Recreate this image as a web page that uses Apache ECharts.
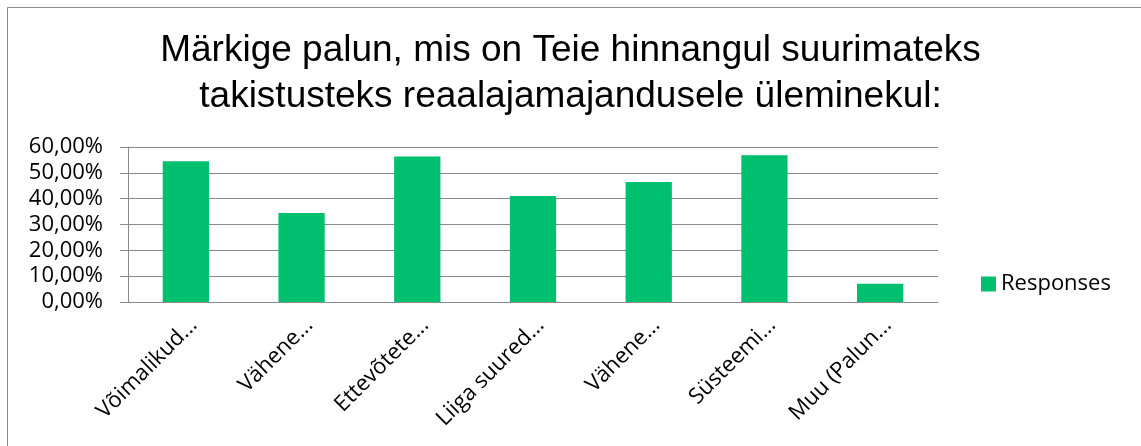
<!DOCTYPE html>
<html>
<head>
<meta charset="utf-8">
<script src="https://cdn.jsdelivr.net/npm/echarts@6/dist/echarts.min.js"></script>
<style>
  html, body { margin: 0; padding: 0; background: #fff; }
  #chart { width: 1141px; height: 446px; }
</style>
</head>
<body>
<div id="chart"></div>
<script>
const titleLines = ['Märkige palun, mis on Teie hinnangul suurimateks', 'takistusteks reaalajamajandusele üleminekul:']
const categories = ['Võimalikud...', 'Vähene...', 'Ettevõtete...', 'Liiga suured...', 'Vähene...', 'Süsteemi...', 'Muu (Palun...']
const responses = [54.5, 34.5, 56.3, 41.0, 46.5, 56.8, 7.1]
const seriesName = 'Responses'

const chart = echarts.init(document.getElementById('chart'))
const labelFont = '"Open Sans", sans-serif'

chart.setOption({
  animation: false,
  title: {
    text: titleLines.join('\n'),
    left: 'center',
    top: 23,
    textStyle: {
      fontFamily: '"Liberation Sans", Arial, sans-serif',
      fontWeight: 'normal',
      fontSize: 37,
      lineHeight: 46,
      color: '#000'
    }
  },
  legend: {
    data: [seriesName],
    left: 981,
    top: 273,
    padding: 0,
    itemWidth: 15,
    itemHeight: 15,
    icon: 'rect',
    textStyle: { fontFamily: labelFont, fontSize: 22, color: '#000' }
  },
  grid: {
    left: 128,
    right: 203,
    top: 147,
    bottom: 144
  },
  xAxis: {
    type: 'category',
    data: categories,
    axisLine: { lineStyle: { color: '#8a8a8a', width: 1 } },
    axisTick: { length: 8, lineStyle: { color: '#8a8a8a' } },
    axisLabel: {
      rotate: 45,
      interval: 0,
      margin: 12,
      verticalAlign: 'top',
      fontFamily: labelFont,
      fontSize: 22,
      color: '#000'
    }
  },
  yAxis: {
    type: 'value',
    min: 0,
    max: 60,
    interval: 10,
    axisLine: { show: true, lineStyle: { color: '#8a8a8a' } },
    axisTick: { show: true, length: 8, lineStyle: { color: '#8a8a8a' } },
    splitLine: { lineStyle: { color: '#8a8a8a', width: 1 } },
    axisLabel: {
      margin: 25,
      fontFamily: labelFont,
      fontSize: 22,
      color: '#000',
      formatter: v => v.toFixed(2).replace('.', ',') + '%'
    }
  },
  series: [{
    name: seriesName,
    type: 'bar',
    data: responses,
    barCategoryGap: '60%',
    itemStyle: { color: '#00bf6f' }
  }],
  graphic: [
    { type: 'line', shape: { x1: 7.5, y1: 7.5, x2: 1141, y2: 7.5 }, style: { stroke: '#8a8a8a', lineWidth: 1 } },
    { type: 'line', shape: { x1: 7.5, y1: 7.5, x2: 7.5, y2: 446 }, style: { stroke: '#8a8a8a', lineWidth: 1 } }
  ]
})
</script>
</body>
</html>
